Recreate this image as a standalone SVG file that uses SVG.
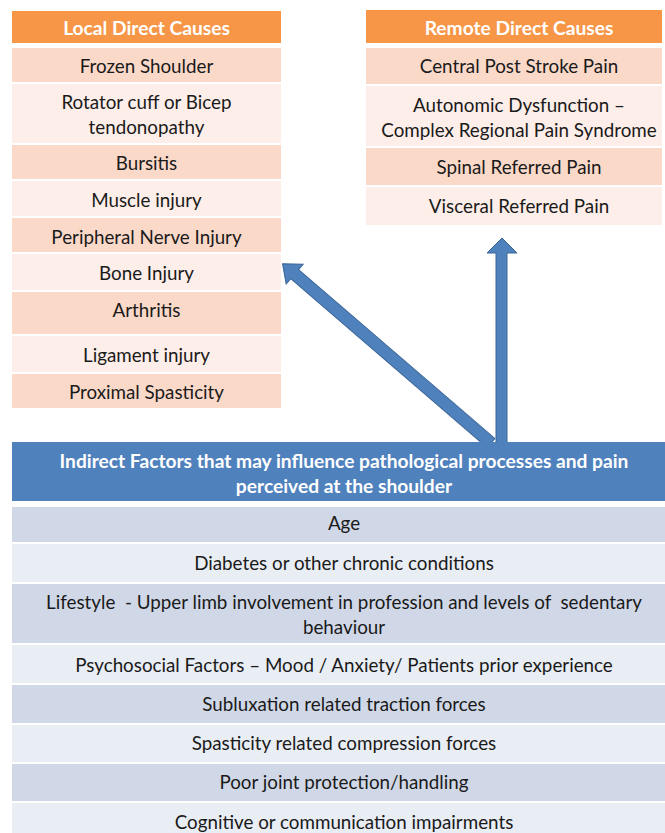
<svg xmlns="http://www.w3.org/2000/svg" width="665" height="833" viewBox="0 0 665 833">
  <style>
    text { font-family: Lato, "Liberation Sans", sans-serif; font-size: 18.8px; fill: #1a1a1a; text-anchor: middle; dominant-baseline: central; }
    .hdr { font-weight: bold; fill: #ffffff; font-size: 19.2px; }
    .oh { fill: #F79646; }
    .od { fill: #FBD9C9; }
    .ol { fill: #FDEEE9; }
    .bh { fill: #4F81BD; }
    .bd { fill: #D0D8E8; }
    .bl { fill: #E9EDF4; }
    .arrow { fill: #4F81BD; stroke: #3A6496; stroke-width: 1; }
  </style>
  <rect width="665" height="833" fill="#ffffff"/>

  <!-- connectors -->
  <g id="connectors">
    <polygon class="arrow" points="496,446 496,253 487,253 502,238 517,253 507,253 507,446"/>
    <polygon class="arrow" transform="translate(491,443) rotate(-139.3)" points="0,-6 259,-6 259,-13 275,0 259,13 259,6 0,6"/>
  </g>

  <!-- local direct causes -->
  <g id="local">
    <rect class="oh" x="12" y="11" width="269" height="32"/>
    <text class="hdr" x="146.5" y="27">Local Direct Causes</text>
    <rect class="od" x="12" y="48" width="269" height="34"/>
    <text x="146.5" y="65">Frozen Shoulder</text>
    <rect class="ol" x="12" y="84" width="269" height="59"/>
    <text x="146.5" y="101">Rotator cuff or Bicep</text>
    <text x="146.5" y="126">tendonopathy</text>
    <rect class="od" x="12" y="145" width="269" height="34"/>
    <text x="146.5" y="162">Bursitis</text>
    <rect class="ol" x="12" y="181" width="269" height="35"/>
    <text x="146.5" y="199">Muscle injury</text>
    <rect class="od" x="12" y="218" width="269" height="34"/>
    <text x="146.5" y="236">Peripheral Nerve Injury</text>
    <rect class="ol" x="12" y="254" width="269" height="36"/>
    <text x="146.5" y="272">Bone Injury</text>
    <rect class="od" x="12" y="292" width="269" height="42"/>
    <text x="146.5" y="309">Arthritis</text>
    <rect class="ol" x="12" y="336" width="269" height="36"/>
    <text x="146.5" y="354">Ligament injury</text>
    <rect class="od" x="12" y="374" width="269" height="34"/>
    <text x="146.5" y="391">Proximal Spasticity</text>
  </g>

  <!-- remote direct causes -->
  <g id="remote">
    <rect class="oh" x="366" y="10" width="296" height="33"/>
    <text class="hdr" x="519" y="27">Remote Direct Causes</text>
    <rect class="od" x="366" y="48" width="296" height="36"/>
    <text x="519" y="65">Central Post Stroke Pain</text>
    <rect class="ol" x="366" y="86" width="296" height="60"/>
    <text x="519" y="104">Autonomic Dysfunction –</text>
    <text x="519" y="129">Complex Regional Pain Syndrome</text>
    <rect class="od" x="366" y="148" width="296" height="37"/>
    <text x="519" y="166">Spinal Referred Pain</text>
    <rect class="ol" x="366" y="187" width="296" height="38"/>
    <text x="519" y="205">Visceral Referred Pain</text>
  </g>

  <!-- indirect factors -->
  <g id="indirect">
    <rect class="bh" x="12" y="442" width="653" height="59"/>
    <text class="hdr" x="344" y="460">Indirect Factors that may influence pathological processes and pain</text>
    <text class="hdr" x="344" y="485">perceived at the shoulder</text>
    <rect class="bd" x="12" y="507" width="653" height="35"/>
    <text x="344" y="522">Age</text>
    <rect class="bl" x="12" y="544" width="653" height="38"/>
    <text x="344" y="562">Diabetes or other chronic conditions</text>
    <rect class="bd" x="12" y="584" width="653" height="59"/>
    <text x="344" y="601" xml:space="preserve">Lifestyle  - Upper limb involvement in profession and levels of  sedentary</text>
    <text x="344" y="626">behaviour</text>
    <rect class="bl" x="12" y="645" width="653" height="38"/>
    <text x="344" y="664">Psychosocial Factors – Mood / Anxiety/ Patients prior experience</text>
    <rect class="bd" x="12" y="685" width="653" height="38"/>
    <text x="344" y="703">Subluxation related traction forces</text>
    <rect class="bl" x="12" y="725" width="653" height="37"/>
    <text x="344" y="742">Spasticity related compression forces</text>
    <rect class="bd" x="12" y="764" width="653" height="37"/>
    <text x="344" y="781">Poor joint protection/handling</text>
    <rect class="bl" x="12" y="803" width="653" height="30"/>
    <text x="344" y="821">Cognitive or communication impairments</text>
  </g>
</svg>
